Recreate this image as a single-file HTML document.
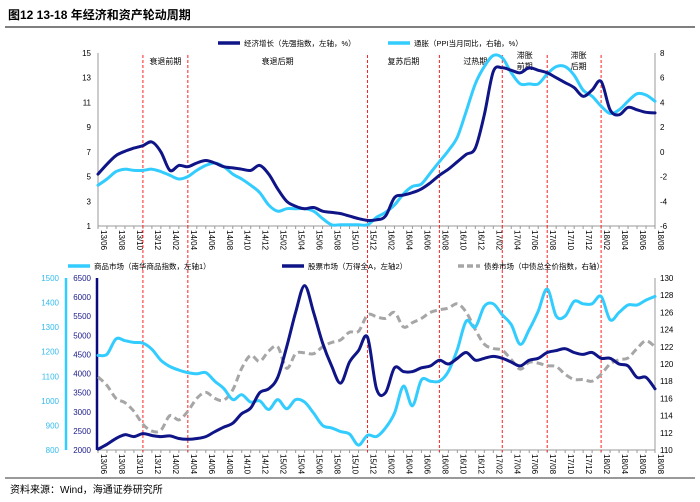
<!DOCTYPE html>
<html><head><meta charset="utf-8"><style>
body{margin:0;background:#fff;}
svg{display:block;font-family:"Liberation Sans","Noto Sans CJK SC",sans-serif;}
</style></head><body>
<svg id="c" width="700" height="502" viewBox="0 0 700 502" xmlns="http://www.w3.org/2000/svg">
<text x="8" y="19" font-size="12" font-weight="bold" fill="#000">图12 13-18 年经济和资产轮动周期</text>
<line x1="5" y1="27" x2="695" y2="27" stroke="#333" stroke-width="1.2"/>
<line x1="5" y1="478" x2="695" y2="478" stroke="#333" stroke-width="1"/>
<text x="10" y="493" font-size="10" fill="#000">资料来源：Wind，海通证券研究所</text>
<g id="g"></g>
</svg>
<script>
const months=[];for(let y=13,m=6;months.length<63;){months.push(String(y).padStart(2,'0')+'/'+String(m).padStart(2,'0'));m++;if(m>12){m=1;y++;}}
const growth=[5.2,6.0,6.7,7.05,7.3,7.5,7.8,7.0,5.5,5.9,5.8,6.1,6.3,6.1,5.8,5.7,5.6,5.5,5.9,5.2,4.0,3.0,2.6,2.4,2.5,2.2,2.1,2.0,1.8,1.6,1.45,1.5,1.8,3.3,3.5,3.7,4.0,4.5,5.1,5.6,6.2,6.8,7.3,10.0,13.5,13.8,13.6,13.4,13.8,13.6,13.4,13.0,12.6,12.2,11.5,12.0,12.7,10.4,10.0,10.6,10.4,10.2,10.15];
const ppi=[-2.7,-2.2,-1.6,-1.4,-1.5,-1.5,-1.4,-1.6,-1.9,-2.2,-2.0,-1.5,-1.1,-0.9,-1.2,-1.8,-2.2,-2.7,-3.3,-4.3,-4.8,-4.6,-4.6,-4.6,-4.8,-5.4,-5.9,-5.9,-5.9,-5.9,-5.9,-5.3,-4.9,-4.3,-3.4,-2.8,-2.6,-1.7,-0.8,0.1,1.2,3.3,5.5,6.9,7.8,7.6,6.4,5.5,5.5,5.5,6.3,6.9,6.9,6.2,5.0,4.5,3.7,3.1,3.4,4.1,4.7,4.6,4.1];
const commodity=[1185,1190,1252,1245,1238,1235,1210,1165,1140,1125,1115,1110,1115,1080,1050,1005,1025,995,1000,965,1005,968,1005,995,950,900,890,875,865,820,860,855,890,950,1060,980,1085,1080,1080,1120,1210,1325,1300,1385,1395,1350,1310,1230,1290,1365,1455,1345,1345,1405,1395,1395,1425,1330,1360,1390,1390,1410,1425];
const stock=[2020,2150,2300,2400,2350,2430,2380,2350,2370,2300,2280,2300,2350,2480,2600,2700,2950,3100,3500,3600,3900,4700,5600,6300,5600,4800,4200,3750,4300,4600,4950,3600,3500,4150,4050,4050,4150,4200,4350,4250,4400,4550,4350,4400,4450,4400,4300,4200,4350,4400,4550,4600,4650,4550,4500,4550,4400,4400,4250,4200,3900,3900,3600];
const bond=[118.5,117.5,116,115.5,114.5,113,112.2,112.3,114,113.5,114.5,116,116.7,116,115.8,117,119.5,121,120.3,121.5,122,119.5,121.2,121.3,121.2,122,122.5,122.8,123.7,123.8,125.7,125.5,125.3,126,124.3,124.8,125.3,126,126.3,126.5,127,126,124,122.3,121.8,121.6,120.5,119.4,120.2,120.1,119.8,119.7,118.8,118.2,118.2,118,118.8,120,120.5,120.7,121.8,122.7,122];
const dividers=[5,10,30,38,45,50,56];
const phaseNames=['衰退前期','衰退后期','复苏后期','过热期','滞胀\n前期','滞胀\n后期'];
const phaseX=[7.5,20,34,42,47.5,53.5];
const topLeftTicks=[1,3,5,7,9,11,13,15];
const topRightTicks=[-6,-4,-2,0,2,4,6,8];
const comTicks=[800,900,1000,1100,1200,1300,1400,1500];
const stockTicks=[2000,2500,3000,3500,4000,4500,5000,5500,6000,6500];
const bondTicks=[110,112,114,116,118,120,122,124,126,128,130];

const NS='http://www.w3.org/2000/svg',G=document.getElementById('g');
function el(t,a,p){const e=document.createElementNS(NS,t);for(const k in a)e.setAttribute(k,a[k]);(p||G).appendChild(e);return e;}
const X0=98,X1=655;const x=i=>X0+(X1-X0)*i/62;
const lin=(d0,d1,r0,r1)=>v=>r0+(v-d0)/(d1-d0)*(r1-r0);
const yL=lin(1,15,226,53),yR=lin(-6,8,226,53);
const yC=lin(800,1500,450,278),yS=lin(2000,6500,450,278),yB=lin(110,130,450,278);
function smooth(pts){let d='M'+pts[0][0].toFixed(1)+','+pts[0][1].toFixed(1);for(let i=0;i<pts.length-1;i++){const p0=pts[i-1]||pts[i],p1=pts[i],p2=pts[i+1],p3=pts[i+2]||p2;const c1=[p1[0]+(p2[0]-p0[0])/6,p1[1]+(p2[1]-p0[1])/6],c2=[p2[0]-(p3[0]-p1[0])/6,p2[1]-(p3[1]-p1[1])/6];d+='C'+c1[0].toFixed(1)+','+c1[1].toFixed(1)+' '+c2[0].toFixed(1)+','+c2[1].toFixed(1)+' '+p2[0].toFixed(1)+','+p2[1].toFixed(1);}return d;}
function txt(x_,y_,s,a,p){const t=el('text',Object.assign({x:x_,y:y_,'font-size':8},a),p);t.textContent=s;return t;}

let ax=el('g',{});


el('line',{x1:X0,y1:53,x2:X0,y2:226,stroke:'#999'},ax);
el('line',{x1:X1,y1:53,x2:X1,y2:226,stroke:'#999'},ax);
el('line',{x1:X0,y1:226,x2:X1,y2:226,stroke:'#999'},ax);
topLeftTicks.forEach(v=>{const t=txt(91,yL(v)+3,v,{'text-anchor':'end',fill:'#000'},ax);});
topRightTicks.forEach(v=>{const t=txt(660,yR(v)+3,v,{fill:'#000'},ax);});
let bx=el('g',{});


el('line',{x1:66,y1:278,x2:66,y2:450,stroke:'#33ccff','stroke-width':2.5},bx);
el('line',{x1:97,y1:278,x2:97,y2:450,stroke:'#0a0a80','stroke-width':2.5},bx);
el('line',{x1:X1,y1:278,x2:X1,y2:450,stroke:'#999'},bx);
el('line',{x1:X0,y1:450,x2:X1,y2:450,stroke:'#999'},bx);
comTicks.forEach(v=>{const t=txt(59,yC(v)+3,v,{'text-anchor':'end',fill:'#33bbee'},bx);});
stockTicks.forEach(v=>{const t=txt(91,yS(v)+3,v,{'text-anchor':'end',fill:'#1a1a8a'},bx);});
bondTicks.forEach(v=>{const t=txt(660,yB(v)+3,v,{fill:'#000'},bx);});
[[226,230],[450,454]].forEach(([yb,yl])=>{months.forEach((m,i)=>{el('line',{x1:x(i),y1:yb,x2:x(i),y2:yb+3,stroke:'#999'});if(i%2===0){const t=txt(0,0,m,{transform:`translate(${x(i)+3},${yl}) rotate(90)`,fill:'#000','font-size':8});}});});
dividers.forEach(i=>{const l=el('line',{x1:x(i),y1:55,x2:x(i),y2:452,stroke:'#ff2020','stroke-dasharray':'3,2','stroke-width':1});});
phaseNames.forEach((n,k)=>{const ls=n.split('\n');ls.forEach((s,j)=>{const t=txt(x(phaseX[k]),(ls.length>1?58:64)+j*11,s,{'text-anchor':'middle',fill:'#000','font-size':8});});});
function series(arr,fx,st,name){const p=el('path',Object.assign({d:smooth(arr.map((v,i)=>[x(i),fx(v)])),fill:'none','stroke-linejoin':'round','stroke-linecap':'round'},st));}
series(ppi,yR,{stroke:'#33ccff','stroke-width':3},'ppi-line');
series(growth,yL,{stroke:'#0f1487','stroke-width':3},'growth-line');
series(bond,yB,{stroke:'#a6a6a6','stroke-width':3,'stroke-dasharray':'7,4','stroke-linecap':'butt'},'bond-line');
series(commodity,yC,{stroke:'#33ccff','stroke-width':3},'commodity-line');
series(stock,yS,{stroke:'#0f1487','stroke-width':3},'stock-line');
function leg(x1,y,st,label,name){const g=el('g',{});el('line',Object.assign({x1:x1,y1:y,x2:x1+22,y2:y,'stroke-width':3.5},st),g);txt(x1+26,y+3,label,{fill:'#000','font-size':7.5},g);}
leg(218,43,{stroke:'#0f1487'},'经济增长（先强指数，左轴，%）','legend-growth');
leg(388,43,{stroke:'#33ccff'},'通胀（PPI当月同比，右轴，%）','legend-ppi');
leg(68,266,{stroke:'#33ccff'},'商品市场（南华商品指数，左轴1）','legend-commodity');
leg(282,266,{stroke:'#0f1487'},'股票市场（万得全A，左轴2）','legend-stock');
leg(458,266,{stroke:'#a6a6a6','stroke-dasharray':'6,3'},'债券市场（中债总全价指数，右轴）','legend-bond');
</script>
</body></html>
